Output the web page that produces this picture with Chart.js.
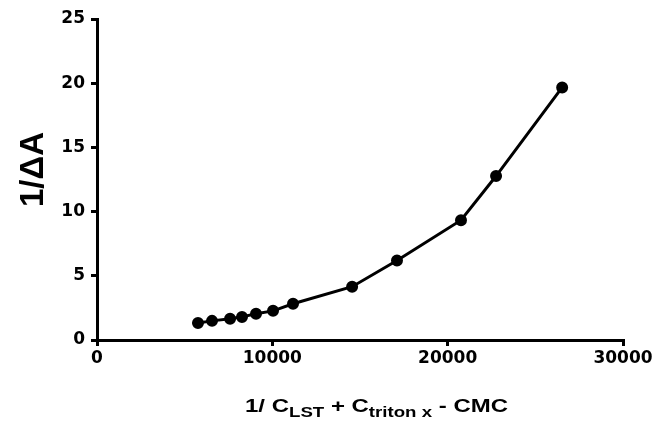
<!DOCTYPE html>
<html>
<head>
<meta charset="utf-8">
<script src="https://cdn.jsdelivr.net/npm/chart.js@4/dist/chart.umd.min.js"></script>
<style>
html,body{margin:0;padding:0;background:#fff;}
#wrap{position:relative;width:657px;height:422px;}
</style>
</head>
<body>
<div id="wrap"><canvas id="c" width="657" height="422"></canvas></div>
<script>
// Data
const xValues = [5760, 6560, 7590, 8270, 9070, 10040, 11180, 14550, 17110, 20760, 22760, 26530];
const yValues = [1.33, 1.49, 1.65, 1.80, 2.04, 2.27, 2.82, 4.15, 6.19, 9.33, 12.77, 19.67];
const xTicks = [0, 10000, 20000, 30000];
const yTicks = [0, 5, 10, 15, 20, 25];
const yTitle = '1/ΔA';
const xTitleParts = [
  {t: '1/ C', sub: false},
  {t: 'LST', sub: true},
  {t: ' + C', sub: false},
  {t: 'triton x', sub: true},
  {t: ' - CMC', sub: false}
];

const FONT = '"Liberation Sans", Arial, Helvetica, sans-serif';
const TICKFONT = '"DejaVu Sans", Verdana, sans-serif';

const points = xValues.map((x, i) => ({x: x, y: yValues[i]}));

const titlesPlugin = {
  id: 'titlesSub',
  afterDraw(chart) {
    const ctx = chart.ctx;
    const area = chart.chartArea;
    ctx.save();
    ctx.fillStyle = '#000';
    ctx.textBaseline = 'alphabetic';
    ctx.textAlign = 'left';
    // x title with subscripts, stretched horizontally like the reference
    const mainFont = 'bold 18px ' + FONT;
    const subFont = 'bold 14px ' + FONT;
    let total = 0;
    const widths = xTitleParts.map(p => {
      ctx.font = p.sub ? subFont : mainFont;
      const w = ctx.measureText(p.t).width;
      total += w;
      return w;
    });
    const targetW = 263;
    const sx = targetW / total;
    const startX = area.left + 148;
    const baseY = area.bottom + 72;
    ctx.save();
    ctx.translate(startX, baseY);
    ctx.scale(sx, 1);
    let x = 0;
    xTitleParts.forEach((p, i) => {
      ctx.font = p.sub ? subFont : mainFont;
      ctx.fillText(p.t, x, p.sub ? 5 : 0);
      x += widths[i];
    });
    ctx.restore();
    // y title rotated
    ctx.save();
    ctx.font = 'bold 33px ' + FONT;
    ctx.textAlign = 'center';
    ctx.translate(area.left - 54, (area.top + area.bottom) / 2 - 10);
    ctx.rotate(-Math.PI / 2);
    ctx.fillText(yTitle, 0, 0);
    ctx.restore();
    ctx.restore();
  }
};

new Chart(document.getElementById('c'), {
  type: 'scatter',
  data: {
    datasets: [{
      data: points,
      showLine: true,
      borderColor: '#000',
      backgroundColor: '#000',
      borderWidth: 3,
      pointRadius: 4.5,
      pointBackgroundColor: '#000',
      pointBorderColor: '#000',
      tension: 0
    }]
  },
  options: {
    responsive: false,
    animation: false,
    devicePixelRatio: 1,
    layout: {padding: {top: 19, right: 34, left: 0, bottom: 0}},
    plugins: {legend: {display: false}, tooltip: {enabled: false}},
    scales: {
      x: {
        type: 'linear',
        min: xTicks[0],
        max: xTicks[xTicks.length - 1],
        afterBuildTicks(scale) { scale.ticks = xTicks.map(v => ({value: v})); },
        afterFit(scale) { scale.height = 82; },
        grid: {display: true, drawOnChartArea: false, drawTicks: true, tickLength: 6, lineWidth: 3, color: '#000'},
        border: {display: true, width: 3, color: '#000'},
        ticks: {color: '#000', font: {family: TICKFONT, size: 17, weight: 'bold'}, padding: 2, maxRotation: 0,
                callback: v => String(v)},
        title: {display: false}
      },
      y: {
        type: 'linear',
        min: yTicks[0],
        max: yTicks[yTicks.length - 1],
        afterBuildTicks(scale) { scale.ticks = yTicks.map(v => ({value: v})); },
        afterFit(scale) { scale.width = 97; },
        grid: {display: true, drawOnChartArea: false, drawTicks: true, tickLength: 6, lineWidth: 3, color: '#000'},
        border: {display: true, width: 3, color: '#000'},
        ticks: {color: '#000', font: {family: TICKFONT, size: 17, weight: 'bold'}, padding: 6,
                callback: v => String(v)},
        title: {display: false}
      }
    }
  },
  plugins: [titlesPlugin]
});
</script>
</body>
</html>
